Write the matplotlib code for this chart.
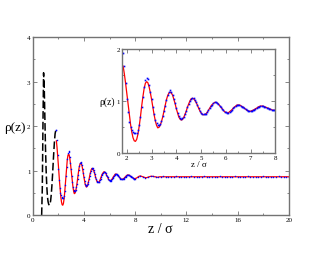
import matplotlib
matplotlib.use('Agg')
import matplotlib.pyplot as plt
from matplotlib.ticker import MultipleLocator

plt.rcParams['font.family'] = ['Liberation Serif', 'DejaVu Serif']

# contact peak region (black dashed)
z_contact = [0.70, 0.75, 0.80, 0.85, 0.90, 0.95, 1.00, 1.05, 1.10, 1.15,
             1.20, 1.25, 1.30, 1.35, 1.40, 1.45, 1.50, 1.55, 1.60, 1.65,
             1.70, 1.75, 1.80, 1.85]
rho_contact = [0.00, 0.60, 2.00, 3.20, 2.90, 2.20, 1.50, 1.00, 0.65, 0.42,
               0.30, 0.24, 0.22, 0.24, 0.32, 0.46, 0.66, 0.90, 1.17, 1.43,
               1.66, 1.83, 1.90, 1.88]

# fine grid 1.85 .. 8.00
z_fine = [1.85, 1.90, 1.95, 2.00, 2.05, 2.10, 2.15, 2.20, 2.25, 2.30,
          2.35, 2.40, 2.45, 2.50, 2.55, 2.60, 2.65, 2.70, 2.75, 2.80,
          2.85, 2.90, 2.95, 3.00, 3.05, 3.10, 3.15, 3.20, 3.25, 3.30,
          3.35, 3.40, 3.45, 3.50, 3.55, 3.60, 3.65, 3.70, 3.75, 3.80,
          3.85, 3.90, 3.95, 4.00, 4.05, 4.10, 4.15, 4.20, 4.25, 4.30,
          4.35, 4.40, 4.45, 4.50, 4.55, 4.60, 4.65, 4.70, 4.75, 4.80,
          4.85, 4.90, 4.95, 5.00, 5.05, 5.10, 5.15, 5.20, 5.25, 5.30,
          5.35, 5.40, 5.45, 5.50, 5.55, 5.60, 5.65, 5.70, 5.75, 5.80,
          5.85, 5.90, 5.95, 6.00, 6.05, 6.10, 6.15, 6.20, 6.25, 6.30,
          6.35, 6.40, 6.45, 6.50, 6.55, 6.60, 6.65, 6.70, 6.75, 6.80,
          6.85, 6.90, 6.95, 7.00, 7.05, 7.10, 7.15, 7.20, 7.25, 7.30,
          7.35, 7.40, 7.45, 7.50, 7.55, 7.60, 7.65, 7.70, 7.75, 7.80,
          7.85, 7.90, 7.95, 8.00]

# theory (red)
rho_theory = [1.67, 1.52, 1.34, 1.14, 0.93, 0.73, 0.55, 0.40, 0.29, 0.23,
              0.22, 0.26, 0.36, 0.51, 0.69, 0.90, 1.08, 1.24, 1.34, 1.37,
              1.35, 1.27, 1.16, 1.03, 0.88, 0.74, 0.62, 0.53, 0.48, 0.49,
              0.53, 0.60, 0.69, 0.80, 0.91, 1.02, 1.10, 1.15, 1.17, 1.15,
              1.11, 1.03, 0.95, 0.85, 0.77, 0.69, 0.65, 0.63, 0.64, 0.68,
              0.74, 0.80, 0.88, 0.94, 1.00, 1.04, 1.05, 1.04, 1.01, 0.97,
              0.92, 0.86, 0.81, 0.77, 0.74, 0.73, 0.74, 0.75, 0.78, 0.82,
              0.86, 0.90, 0.93, 0.95, 0.97, 0.97, 0.96, 0.94, 0.91, 0.88,
              0.85, 0.82, 0.79, 0.78, 0.77, 0.77, 0.79, 0.81, 0.83, 0.86,
              0.88, 0.90, 0.92, 0.92, 0.92, 0.91, 0.89, 0.88, 0.86, 0.84,
              0.82, 0.81, 0.80, 0.80, 0.81, 0.82, 0.83, 0.85, 0.86, 0.88,
              0.89, 0.90, 0.90, 0.90, 0.89, 0.88, 0.87, 0.86, 0.85, 0.84,
              0.83, 0.82, 0.82, 0.82]

z_tail = [8.1, 8.2, 8.3, 8.4, 8.5, 8.6, 8.7, 8.8, 8.9, 9.0,
          9.1, 9.2, 9.3, 9.4, 9.5, 9.6, 9.7, 9.8, 9.9, 10.0,
          11.0, 12.0, 13.0, 14.0, 15.0, 16.0, 17.0, 18.0, 19.0, 20.0]
rho_theory_tail = [0.83, 0.85, 0.87, 0.88, 0.87, 0.86, 0.85, 0.84, 0.84, 0.85,
                   0.86, 0.87, 0.87, 0.87, 0.86, 0.86, 0.85, 0.85, 0.86, 0.86,
                   0.86, 0.86, 0.86, 0.86, 0.86, 0.86, 0.86, 0.86, 0.86, 0.86]

# simulation (blue)
rho_sim_first = 1.92  # point at z = 1.80
rho_sim = [1.92, 1.68, 1.35, 1.03, 0.78, 0.60, 0.50, 0.44, 0.40, 0.38,
           0.38, 0.39, 0.43, 0.53, 0.68, 0.88, 1.08, 1.26, 1.40, 1.45,
           1.42, 1.31, 1.17, 1.03, 0.88, 0.75, 0.64, 0.57, 0.54, 0.54,
           0.56, 0.62, 0.70, 0.80, 0.91, 1.02, 1.11, 1.18, 1.20, 1.18,
           1.12, 1.04, 0.95, 0.86, 0.77, 0.70, 0.67, 0.66, 0.67, 0.69,
           0.74, 0.80, 0.88, 0.94, 1.00, 1.04, 1.06, 1.05, 1.02, 0.97,
           0.92, 0.86, 0.81, 0.77, 0.75, 0.74, 0.74, 0.75, 0.78, 0.82,
           0.86, 0.90, 0.93, 0.95, 0.97, 0.97, 0.96, 0.94, 0.91, 0.88,
           0.85, 0.82, 0.79, 0.78, 0.77, 0.77, 0.79, 0.81, 0.83, 0.86,
           0.88, 0.90, 0.92, 0.92, 0.92, 0.91, 0.89, 0.88, 0.86, 0.84,
           0.82, 0.81, 0.80, 0.80, 0.81, 0.82, 0.83, 0.85, 0.86, 0.88,
           0.89, 0.90, 0.90, 0.90, 0.89, 0.88, 0.87, 0.86, 0.85, 0.84,
           0.83, 0.82, 0.82, 0.82]

z_sim_tail = [8.2, 8.4, 8.6, 8.8, 9.0, 9.2, 9.4, 9.6, 9.8, 10.0,
              10.2, 10.4, 10.6, 10.8, 11.0, 11.2, 11.4, 11.6, 11.8, 12.0,
              12.2, 12.4, 12.6, 12.8, 13.0, 13.2, 13.4, 13.6, 13.8, 14.0,
              14.2, 14.4, 14.6, 14.8, 15.0, 15.2, 15.4, 15.6, 15.8, 16.0,
              16.2, 16.4, 16.6, 16.8, 17.0, 17.2, 17.4, 17.6, 17.8, 18.0,
              18.2, 18.4, 18.6, 18.8, 19.0, 19.2, 19.4, 19.6, 19.8, 20.0]
rho_sim_tail = [0.85, 0.88, 0.86, 0.84, 0.85, 0.87, 0.87, 0.86, 0.85, 0.86,
                0.87, 0.86, 0.86, 0.85, 0.86, 0.87, 0.86, 0.86, 0.85, 0.86,
                0.86, 0.87, 0.86, 0.85, 0.86, 0.86, 0.87, 0.86, 0.86, 0.85,
                0.86, 0.86, 0.87, 0.86, 0.85, 0.86, 0.86, 0.86, 0.87, 0.86,
                0.85, 0.86, 0.86, 0.87, 0.86, 0.86, 0.85, 0.86, 0.86, 0.87,
                0.86, 0.86, 0.85, 0.86, 0.86, 0.87, 0.86, 0.86, 0.85, 0.86]

z_sim = [1.80] + z_fine + z_sim_tail
rho_sim_all = [rho_sim_first] + rho_sim + rho_sim_tail
z_theory = z_fine + z_tail
rho_theory_all = rho_theory + rho_theory_tail

FRAME = '0.45'


def style_axes(ax, xmaj, xmin, ymaj, ymin, lsize, tlen):
    ax.xaxis.set_major_locator(MultipleLocator(xmaj))
    ax.xaxis.set_minor_locator(MultipleLocator(xmin))
    ax.yaxis.set_major_locator(MultipleLocator(ymaj))
    ax.yaxis.set_minor_locator(MultipleLocator(ymin))
    ax.tick_params(which='both', direction='in', top=True, right=True,
                   color=FRAME, labelcolor='black', labelsize=lsize,
                   width=0.6, pad=1.5)
    ax.tick_params(which='major', length=tlen)
    ax.tick_params(which='minor', length=tlen / 2)
    for s in ax.spines.values():
        s.set_color(FRAME)
        s.set_linewidth(1.0)


fig = plt.figure(figsize=(3.25, 2.55), dpi=100)

ax = fig.add_axes([0.1006, 0.153, 0.788, 0.697])
ax.plot(z_contact, rho_contact, color='black', ls=(0, (5, 2)), lw=1.1)
ax.plot(z_theory, rho_theory_all, color='red', lw=0.9)
ax.plot(z_sim, rho_sim_all, 's', color='blue', ms=1.0, mew=0)
ax.set_xlim(0, 20)
ax.set_ylim(0, 4)
style_axes(ax, 4, 2, 1, 0.5, 5, 3)
fig.text(160.7 / 325, 1 - 230 / 255, 'z / σ', fontsize=10,
         ha='center', va='center')
fig.text(4 / 325, 1 - 128 / 255, 'ρ(z)', fontsize=9.5,
         ha='left', va='center')

ins = fig.add_axes([0.375, 0.397, 0.472, 0.407])
ins.plot(z_theory, rho_theory_all, color='red', lw=0.9)
ins.plot(z_sim, rho_sim_all, 's', color='blue', ms=1.2, mew=0)
ins.set_xlim(1.8, 8)
ins.set_ylim(0, 2)
style_axes(ins, 1, 0.5, 1, 0.5, 5, 3)
fig.text(198.7 / 325, 1 - 165 / 255, 'z / σ', fontsize=6.5,
         ha='center', va='center')
fig.text(107 / 325, 1 - 102 / 255, 'ρ(z)', fontsize=7,
         ha='center', va='center')

fig.savefig('out.png', dpi=100)
